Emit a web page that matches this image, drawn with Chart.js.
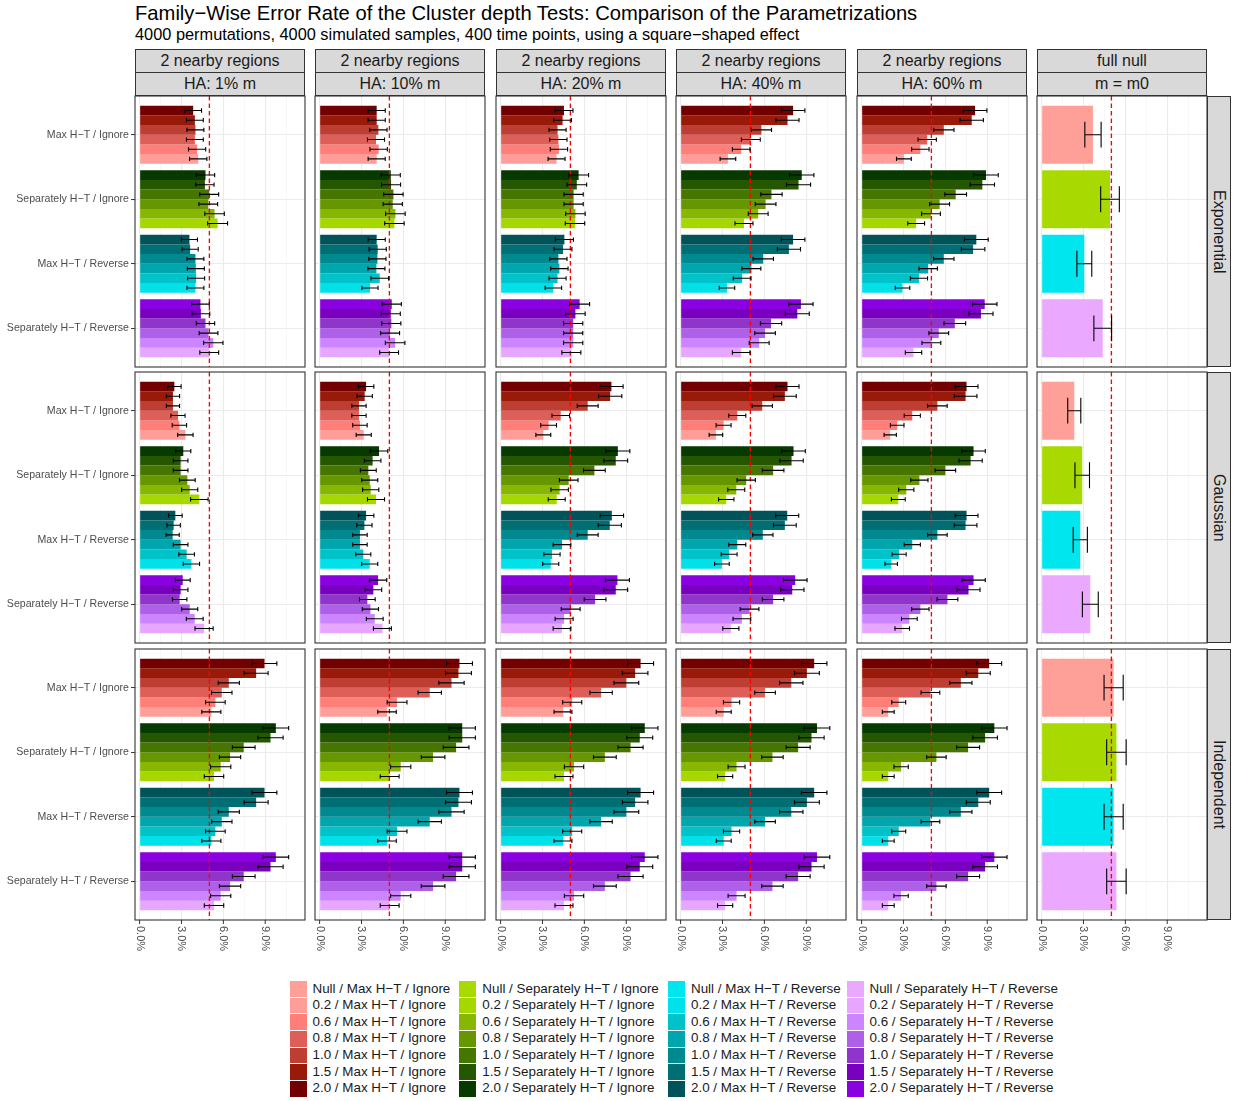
<!DOCTYPE html>
<html>
<head>
<meta charset="utf-8">
<title>Family-Wise Error Rate of the Cluster depth Tests</title>
<script src="https://cdn.jsdelivr.net/npm/chart.js@4.4.1/dist/chart.umd.min.js"></script>
<style>
  body { margin: 0; background: #fff; font-family: "Liberation Sans", Arial, sans-serif; }
  #fig { position: relative; width: 1233px; height: 1101px; overflow: hidden; background: #fff; }
  .txt { position: absolute; white-space: nowrap; line-height: 1; }
  .title { left: 135px; top: 3px; font-size: 20.2px; color: #000; }
  .subtitle { left: 135px; top: 26px; font-size: 16.35px; color: #000; }
  .strip { position: absolute; box-sizing: border-box; background: #D9D9D9; border: 1px solid #333;
           display: flex; align-items: center; justify-content: center; font-size: 16px; color: #1A1A1A; white-space: nowrap; }
  .vstrip { writing-mode: vertical-rl; }
  canvas { position: absolute; }
  .legcol { position: absolute; top: 980.5px; }
  .legrow { position: relative; height: 16.67px; }
  .key { position: absolute; left: 0; top: 0.4px; width: 17px; height: 15.9px; }
  .legtxt { position: absolute; top: 0; height: 16.67px; line-height: 16.67px; font-size: 13.4px; color: #1A1A1A; white-space: nowrap; }
</style>
</head>
<body>
<div id="fig">
  <div class="txt title">Family−Wise Error Rate of the Cluster depth Tests: Comparison of the Parametrizations</div>
  <div class="txt subtitle">4000 permutations, 4000 simulated samples, 400 time points, using a square−shaped effect</div>
</div>
<script>
// ---- categories and labels ----
const methods = ['Max H−T / Ignore', 'Separately H−T / Ignore', 'Max H−T / Reverse', 'Separately H−T / Reverse'];
const effectLevels = ['2.0', '1.5', '1.0', '0.8', '0.6', '0.2'];          // drawn top to bottom in each group
const legendLevels = ['Null', '0.2', '0.6', '0.8', '1.0', '1.5', '2.0'];
const correlationRows = ['Exponential', 'Gaussian', 'Independent'];
const regionLabels = ['2 nearby regions', '2 nearby regions', '2 nearby regions', '2 nearby regions', '2 nearby regions', 'full null'];
const hypothesisLabels = ['HA: 1% m', 'HA: 10% m', 'HA: 20% m', 'HA: 40% m', 'HA: 60% m', 'm = m0'];
const xTickValues = [0, 3, 6, 9];
const nominalLevel = 5;       // %
const nSamples = 4000;

// ---- fill colours (legend order: Null, 0.2, 0.6, 0.8, 1.0, 1.5, 2.0) ----
const redShades    = ['#FFA098', '#FF9E98', '#FF7E78', '#DE5E58', '#BE3E34', '#9A1A0A', '#730000'];
const greenShades  = ['#A8D900', '#A6D800', '#87B700', '#679700', '#467600', '#255600', '#063A00'];
const tealShades   = ['#00E6EE', '#00E1E9', '#00C3CA', '#00A6AD', '#008A8F', '#006F74', '#005459'];
const purpleShades = ['#EAA9FF', '#E7A6FF', '#CC85FF', '#AE60E8', '#9035CA', '#7800BE', '#8A00E0'];
const methodShades = [redShades, greenShades, tealShades, purpleShades];

// ---- FWER (%) per method; values follow effectLevels (2.0 ... 0.2) ----
const expHA01 = [[3.84, 3.96, 4.00, 3.96, 4.12, 4.20], [4.72, 4.68, 4.99, 4.92, 5.37, 5.59],
                 [3.57, 3.62, 4.00, 4.03, 4.05, 4.00], [4.36, 4.39, 4.72, 4.94, 5.28, 4.99]];
const expHA10 = [[4.09, 4.09, 4.21, 4.04, 4.23, 4.09], [5.10, 5.12, 5.29, 5.24, 5.43, 5.36],
                 [4.09, 4.16, 4.14, 4.07, 4.31, 3.61], [5.17, 5.10, 5.14, 5.05, 5.41, 4.98]];
const expHA20 = [[4.54, 4.44, 4.08, 4.14, 4.18, 4.01], [5.59, 5.46, 5.23, 5.23, 5.36, 5.33],
                 [4.57, 4.47, 4.14, 4.21, 4.08, 3.78], [5.66, 5.36, 5.20, 5.20, 5.20, 5.07]];
const expHA40 = [[8.06, 7.66, 5.79, 5.03, 4.34, 3.39], [8.68, 8.45, 6.51, 6.09, 5.56, 4.54],
                 [8.06, 7.76, 5.92, 5.07, 4.41, 3.32], [8.62, 8.36, 6.48, 6.05, 5.63, 4.34]];
const expHA60 = [[8.13, 7.89, 5.89, 4.70, 4.21, 3.03], [8.91, 8.65, 6.74, 5.59, 4.97, 3.91],
                 [8.22, 7.99, 5.89, 4.77, 4.11, 2.93], [8.82, 8.55, 6.68, 5.53, 5.00, 3.72]];
const expNull = [3.68, 4.90, 3.06, 4.38];

const gauHA01 = [[2.49, 2.39, 2.39, 2.75, 2.85, 3.28], [3.13, 2.94, 2.94, 3.42, 3.59, 4.28],
                 [2.56, 2.44, 2.37, 2.94, 3.37, 3.71], [3.09, 2.94, 2.87, 3.59, 3.95, 4.62]];
const gauHA10 = [[3.33, 3.23, 2.82, 2.82, 2.89, 3.16], [4.26, 3.80, 3.49, 3.59, 3.66, 4.04],
                 [3.33, 3.21, 2.89, 2.89, 3.13, 3.59], [4.19, 3.85, 3.42, 3.64, 3.95, 4.50]];
const gauHA20 = [[7.94, 7.85, 6.24, 4.31, 3.44, 3.06], [8.40, 8.25, 6.72, 4.88, 4.23, 4.02],
                 [7.97, 7.82, 6.24, 4.40, 3.68, 3.59], [8.37, 8.25, 6.77, 5.02, 4.55, 4.40]];
const gauHA40 = [[7.66, 7.47, 5.85, 4.06, 3.08, 2.53], [8.09, 7.95, 6.63, 4.70, 3.99, 3.27],
                 [7.64, 7.47, 5.89, 4.06, 3.48, 2.96], [8.21, 8.00, 6.63, 4.94, 4.39, 3.60]];
const gauHA60 = [[7.52, 7.45, 5.43, 3.63, 2.55, 2.05], [8.02, 7.81, 6.00, 4.14, 3.20, 2.63],
                 [7.52, 7.45, 5.43, 3.63, 2.69, 2.12], [8.02, 7.66, 6.15, 4.21, 3.42, 2.91]];
const gauNull = [2.34, 2.91, 2.77, 3.49];

const indHA01 = [[8.95, 8.35, 6.39, 5.89, 5.43, 5.14], [9.76, 9.38, 7.46, 6.48, 5.81, 5.33],
                 [8.95, 8.35, 6.39, 5.89, 5.43, 5.14], [9.76, 9.38, 7.46, 6.48, 5.81, 5.33]];
const indHA10 = [[10.02, 9.95, 9.45, 7.89, 5.55, 4.83], [10.22, 10.22, 9.78, 8.13, 5.81, 5.02],
                 [10.02, 9.95, 9.45, 7.89, 5.55, 4.83], [10.22, 10.22, 9.78, 8.13, 5.81, 5.02]];
const indHA20 = [[10.03, 9.64, 9.01, 7.20, 5.13, 4.47], [10.33, 9.97, 9.31, 7.47, 5.26, 4.54],
                 [10.03, 9.64, 9.01, 7.20, 5.13, 4.47], [10.33, 9.97, 9.31, 7.47, 5.26, 4.54]];
const indHA40 = [[9.57, 9.05, 7.93, 6.05, 3.65, 3.09], [9.77, 9.38, 8.42, 6.58, 4.01, 3.19],
                 [9.57, 9.05, 7.93, 6.05, 3.65, 3.09], [9.77, 9.38, 8.42, 6.58, 4.01, 3.19]];
const indHA60 = [[9.14, 8.36, 7.11, 4.93, 2.66, 1.91], [9.51, 8.85, 7.63, 5.36, 2.83, 1.91],
                 [9.14, 8.36, 7.11, 4.93, 2.66, 1.91], [9.51, 8.85, 7.63, 5.36, 2.83, 1.91]];
const indNull = [5.16, 5.36, 5.16, 5.36];

const panelGrid = [
  [expHA01, expHA10, expHA20, expHA40, expHA60, expNull],
  [gauHA01, gauHA10, gauHA20, gauHA40, gauHA60, gauNull],
  [indHA01, indHA10, indHA20, indHA40, indHA60, indNull]
];

// ---- layout ----
const colLeft = [135, 315, 496, 676, 857, 1037];
const rowTop = [96, 372, 649];
const panelW = 170, panelH = 271, margin = 3, xLabelSpace = 50;
const xMin = -0.33, xMax = 11.85;

// 95% binomial interval half-width, in percentage points
function ciHalf(pct) {
  const p = pct / 100;
  return 196 * Math.sqrt(p * (1 - p) / nSamples);
}

const decorPlugin = {
  id: 'panelDecor',
  afterDatasetsDraw(chart) {
    const { ctx, chartArea: a, scales: { x } } = chart;
    ctx.save();
    ctx.beginPath();
    ctx.rect(a.left, a.top, a.right - a.left, a.bottom - a.top);
    ctx.clip();
    // nominal level
    const xr = x.getPixelForValue(nominalLevel);
    ctx.strokeStyle = '#FF0000';
    ctx.lineWidth = 1.35;
    ctx.setLineDash([4.5, 3]);
    ctx.beginPath();
    ctx.moveTo(xr, a.top);
    ctx.lineTo(xr, a.bottom);
    ctx.stroke();
    ctx.setLineDash([]);
    // confidence intervals
    ctx.strokeStyle = '#000';
    ctx.lineWidth = 1.1;
    chart.data.datasets.forEach((ds, di) => {
      const meta = chart.getDatasetMeta(di);
      meta.data.forEach((el, i) => {
        const v = ds.data[i].x;
        const h = ciHalf(v);
        const x1 = x.getPixelForValue(v - h);
        const x2 = x.getPixelForValue(v + h);
        const cap = el.height * 0.222;
        ctx.beginPath();
        ctx.moveTo(x1, el.y); ctx.lineTo(x2, el.y);
        ctx.moveTo(x1, el.y - cap); ctx.lineTo(x1, el.y + cap);
        ctx.moveTo(x2, el.y - cap); ctx.lineTo(x2, el.y + cap);
        ctx.stroke();
      });
    });
    ctx.restore();
  },
  afterDraw(chart, args, opts) {
    const { ctx, chartArea: a, scales: { x } } = chart;
    ctx.save();
    ctx.strokeStyle = '#333333';
    ctx.lineWidth = 1.1;
    ctx.strokeRect(a.left, a.top, a.right - a.left, a.bottom - a.top);
    if (opts.xLabels) {
      ctx.font = '11px "Liberation Sans", Arial, sans-serif';
      ctx.fillStyle = '#4D4D4D';
      ctx.lineWidth = 1;
      xTickValues.forEach(v => {
        const px = x.getPixelForValue(v);
        ctx.beginPath();
        ctx.moveTo(px, a.bottom);
        ctx.lineTo(px, a.bottom + 4);
        ctx.stroke();
        ctx.save();
        ctx.translate(px, a.bottom + 6);
        ctx.rotate(Math.PI / 2);
        ctx.textAlign = 'left';
        ctx.textBaseline = 'middle';
        ctx.fillText(v.toFixed(1) + '%', 0, 0);
        ctx.restore();
      });
    }
    ctx.restore();
  }
};

function isMajor(v) { return Math.abs(v / 3 - Math.round(v / 3)) < 1e-6; }
const gridValues = [];
xTickValues.forEach(v => { gridValues.push(v, v + 1.5); });

function buildDatasets(values, isNullCol) {
  if (isNullCol) {
    return [{
      label: 'Null',
      data: methods.map((m, i) => ({ x: values[i], y: i })),
      backgroundColor: methodShades.map(s => s[0])
    }];
  }
  return effectLevels.map((lvl, k) => ({
    label: lvl,
    data: methods.map((m, i) => ({ x: values[i][k], y: i })),
    backgroundColor: methodShades.map(s => s[legendLevels.indexOf(lvl)])
  }));
}

const fig = document.getElementById('fig');

// column strips
colLeft.forEach((left, c) => {
  const s1 = document.createElement('div');
  s1.className = 'strip';
  Object.assign(s1.style, { left: left + 'px', top: '49px', width: panelW + 'px', height: '24px' });
  s1.textContent = regionLabels[c];
  fig.appendChild(s1);
  const s2 = document.createElement('div');
  s2.className = 'strip';
  Object.assign(s2.style, { left: left + 'px', top: '72px', width: panelW + 'px', height: '24px' });
  s2.textContent = hypothesisLabels[c];
  fig.appendChild(s2);
});
// row strips
rowTop.forEach((top, r) => {
  const s = document.createElement('div');
  s.className = 'strip vstrip';
  Object.assign(s.style, { left: (colLeft[5] + panelW) + 'px', top: top + 'px', width: '24px', height: panelH + 'px' });
  s.textContent = correlationRows[r];
  fig.appendChild(s);
});

// panels
rowTop.forEach((top, r) => {
  colLeft.forEach((left, c) => {
    const first = c === 0, bottom = r === rowTop.length - 1, nullCol = c === colLeft.length - 1;
    const cv = document.createElement('canvas');
    const cLeft = first ? 0 : left - margin;
    const cTop = top - margin;
    const w = left + panelW + margin - cLeft;
    const h = panelH + 2 * margin + (bottom ? xLabelSpace : 0);
    cv.width = w; cv.height = h;
    cv.style.left = cLeft + 'px'; cv.style.top = cTop + 'px';
    cv.style.width = w + 'px'; cv.style.height = h + 'px';
    fig.appendChild(cv);

    new Chart(cv, {
      type: 'bar',
      data: { datasets: buildDatasets(panelGrid[r][c], nullCol) },
      plugins: [decorPlugin],
      options: {
        responsive: false,
        animation: false,
        indexAxis: 'y',
        layout: { padding: { left: first ? 0 : margin, right: margin, top: margin, bottom: margin + (bottom ? xLabelSpace : 0) } },
        datasets: { bar: { categoryPercentage: 0.9, barPercentage: 1.0, borderWidth: 0 } },
        plugins: { legend: { display: false }, tooltip: { enabled: false }, panelDecor: { xLabels: bottom } },
        scales: {
          x: {
            type: 'linear', min: xMin, max: xMax, offset: false,
            afterBuildTicks: s => { s.ticks = gridValues.map(v => ({ value: v })); },
            afterFit: s => { s.height = 0; s.paddingLeft = 0; s.paddingRight = 0; },
            ticks: { display: false },
            border: { display: false },
            grid: {
              offset: false,
              drawTicks: false,
              color: ctx => isMajor(ctx.tick.value) ? '#EBEBEB' : '#F3F3F3',
              lineWidth: ctx => isMajor(ctx.tick.value) ? 1.1 : 0.7
            }
          },
          y: {
            type: 'linear', min: -0.6, max: 3.6, reverse: true, offset: false,
            afterBuildTicks: s => { s.ticks = methods.map((m, i) => ({ value: i })); },
            afterFit: s => { s.width = first ? colLeft[0] : 0; s.paddingTop = 0; s.paddingBottom = 0; },
            ticks: {
              display: first,
              padding: 2,
              color: '#4D4D4D',
              font: { family: '"Liberation Sans", Arial, sans-serif', size: 10.6 },
              callback: v => methods[v]
            },
            border: { display: false },
            grid: { offset: false, drawTicks: first, tickLength: 4, tickColor: '#333333', tickWidth: 1, color: '#EBEBEB', lineWidth: 1.1 }
          }
        }
      }
    });
  });
});

// legend
const legendKeyLeft = [289.5, 459.3, 668, 846.5];
methods.forEach((m, mi) => {
  const col = document.createElement('div');
  col.className = 'legcol';
  col.style.left = legendKeyLeft[mi] + 'px';
  legendLevels.forEach((lvl, li) => {
    const row = document.createElement('div');
    row.className = 'legrow';
    const key = document.createElement('div');
    key.className = 'key';
    key.style.background = methodShades[mi][li];
    const t = document.createElement('div');
    t.className = 'legtxt';
    t.style.left = '23px';
    t.textContent = lvl + ' / ' + m;
    row.appendChild(key);
    row.appendChild(t);
    col.appendChild(row);
  });
  fig.appendChild(col);
});
</script>
</body>
</html>
